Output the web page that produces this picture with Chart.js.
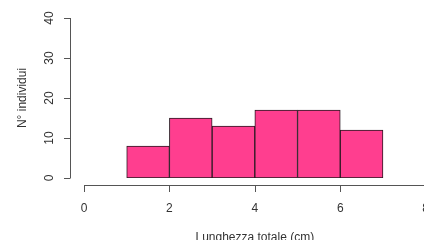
<!DOCTYPE html>
<html>
<head>
<meta charset="utf-8">
<script src="https://cdn.jsdelivr.net/npm/chart.js@4"></script>
<style>
  html, body { margin: 0; padding: 0; background: #fff; overflow: hidden; }
  #wrap { width: 424px; height: 240px; overflow: hidden; }
  #wrap div { width: 444px; height: 250px; }
</style>
</head>
<body>
<div id="wrap"><div><canvas id="hist"></canvas></div></div>
<script>
// classes of lengths (cm) and counts
const binStarts = [1, 2, 3, 4, 5, 6]
const counts = [8, 15, 13, 17, 17, 12]
const xTicks = [0, 2, 4, 6, 8]
const yTicks = [0, 10, 20, 30, 40]

const axisColor = '#555'
const textColor = '#333'
const font = { family: 'Liberation Sans, Arial, sans-serif', size: 12 }

// R-style detached axes, with the y labels turned like R does
const rAxes = {
    id: 'rAxes',
    afterDraw(chart) {
        const c = chart.ctx
        const xs = chart.scales.x
        const ys = chart.scales.y
        const ax = chart.chartArea.left - 14
        const ay = chart.chartArea.bottom + 7
        c.save()
        c.strokeStyle = axisColor
        c.lineWidth = 1
        c.beginPath()
        c.moveTo(ax + 0.5, ys.getPixelForValue(yTicks[0]))
        c.lineTo(ax + 0.5, ys.getPixelForValue(yTicks[yTicks.length - 1]))
        yTicks.forEach(v => {
            const p = Math.round(ys.getPixelForValue(v)) + 0.5
            c.moveTo(ax + 0.5, p)
            c.lineTo(ax - 6, p)
        })
        c.moveTo(xs.getPixelForValue(xTicks[0]), ay + 0.5)
        c.lineTo(xs.getPixelForValue(xTicks[xTicks.length - 1]), ay + 0.5)
        xTicks.forEach(v => {
            const p = Math.round(xs.getPixelForValue(v)) + 0.5
            c.moveTo(p, ay + 0.5)
            c.lineTo(p, ay + 7)
        })
        c.stroke()

        c.fillStyle = textColor
        c.font = font.size + 'px ' + font.family
        c.textAlign = 'center'
        c.textBaseline = 'middle'
        yTicks.forEach(v => {
            c.save()
            c.translate(ax - 20, ys.getPixelForValue(v))
            c.rotate(-Math.PI / 2)
            c.fillText(String(v), 0, 0)
            c.restore()
        })
        c.restore()
    }
}

new Chart(document.getElementById('hist'), {
    type: 'bar',
    data: {
        datasets: [{
            data: binStarts.map((b, i) => ({ x: b + 0.5, y: counts[i] })),
            backgroundColor: '#ff3e8f',
            borderColor: '#2a1a22',
            borderWidth: 1,
            borderSkipped: false,
            barPercentage: 1,
            categoryPercentage: 1
        }]
    },
    options: {
        responsive: true,
        maintainAspectRatio: false,
        animation: false,
        layout: { padding: { top: 18, right: 11, left: 0, bottom: 0 } },
        plugins: { legend: { display: false }, tooltip: { enabled: false } },
        scales: {
            x: {
                type: 'linear',
                offset: false,
                min: 0,
                max: 8,
                afterBuildTicks: s => { s.ticks = xTicks.map(v => ({ value: v })) },
                afterFit: s => { s.height = 72 },
                grid: { display: false },
                border: { display: false },
                ticks: { color: textColor, font: font, padding: 15, maxRotation: 0 },
                title: { display: true, text: 'Lunghezza totale (cm)', color: textColor, font: font, padding: { top: 0, bottom: 5 } }
            },
            y: {
                min: 0,
                max: 40,
                afterBuildTicks: s => { s.ticks = yTicks.map(v => ({ value: v })) },
                afterFit: s => { s.width = 84 },
                grid: { display: false },
                border: { display: false },
                ticks: { display: false },
                title: { display: true, text: 'N° individui', color: textColor, font: font, padding: { top: 15, bottom: 0 } }
            }
        }
    },
    plugins: [rAxes]
})
</script>
</body>
</html>
